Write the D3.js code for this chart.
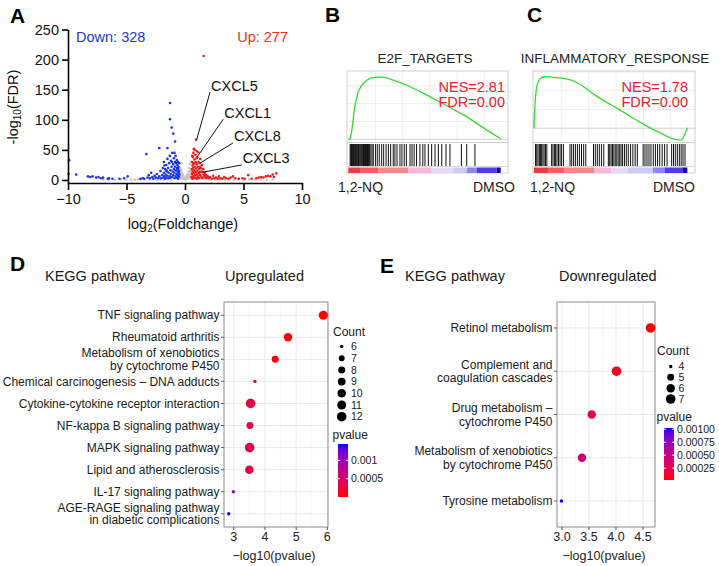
<!DOCTYPE html>
<html lang="en">
<head>
<meta charset="UTF-8">
<title>1,2-NQ transcriptome figure</title>
<style>
  body { margin: 0; background: #fff; }
  svg text { font-family: "Liberation Sans", Arial, sans-serif; }
</style>
<script src="https://d3js.org/d3.v7.min.js"></script>
</head>
<body>
<script>
// ---------- A: volcano points [log2FC, -log10 FDR]
const grayPts = [[-7,0.3],[-6.5,0.5],[-6,0.5],[-5.5,1],[-5,0.5],[-4.6,1],[-4.3,0.5],[-4,1.2],[-3.8,0.3],[-3.4,1],[-3,0.5],[-2.7,1.5],[-2.4,0.5],[-2.1,1],[-1.8,0.3],[-1.5,1.2],[-1.2,0.5],
  [-0.45,2],[-0.42,6],[-0.4,12],[-0.38,20],[-0.35,3],[-0.33,9],[-0.3,16],[-0.3,28],[-0.28,4],[-0.25,11],[-0.22,6],[-0.2,2],[-0.18,8],[-0.15,4],[-0.12,1.5],[-0.1,5],[-0.05,2],[0,1],
  [0.05,3],[0.1,1.5],[0.12,6],[0.15,2],[0.2,4],[0.22,9],[0.25,3],[0.28,7],[0.3,14],[0.33,5],[0.35,20],[0.38,10],[0.4,3],[0.42,26],[0.45,15],[0.48,7],[0.5,30],[0.52,12],
  [2.2,1],[2.6,0.5],[3,1],[3.4,0.5],[3.8,1.2],[4.2,0.5],[4.6,1],[5,0.5],[5.5,1],[6,0.5],[6.5,1],[7,0.5],[7.5,1]];
const downPts = [[-9.9,33],[-9.95,10],[-9.3,9],[-8.3,6],[-8.1,5],[-7.9,6],[-7.6,4],[-7.4,5],[-7.2,3],[-7,4],[-6.6,2],[-6.5,3],[-6.2,2],[-5.6,2],[-5.2,3],[-4.9,6],
  [-3.8,2],[-3.6,3],[-3.5,2],[-3.3,43],[-3.2,4],[-3.1,8],[-3,3],[-2.9,12],[-2.8,5],[-2.7,2],[-2.6,7],[-2.5,4],[-2.4,10],[-2.3,3],[-2.2,53],[-2.2,6],[-2.1,15],[-2.05,3],
  [-1.95,8],[-1.9,20],[-1.85,4],[-1.8,12],[-1.8,30],[-1.75,6],[-1.7,18],[-1.7,2],[-1.65,9],[-1.6,25],[-1.6,4],[-1.55,14],[-1.5,53],[-1.5,7],[-1.5,35],[-1.45,20],[-1.4,3],
  [-1.4,12],[-1.35,28],[-1.3,40],[-1.3,6],[-1.28,128],[-1.28,101],[-1.25,16],[-1.2,10],[-1.2,32],[-1.15,22],[-1.14,87],[-1.1,5],[-1.1,45],[-1.05,14],[-1,77],[-1,26],[-1,8],
  [-0.95,36],[-0.95,18],[-0.9,3],[-0.9,12],[-0.85,64],[-0.85,30],[-0.85,22],[-0.8,6],[-0.8,40],[-0.78,16],[-0.75,28],[-0.72,10],[-0.7,33],[-0.7,4],[-0.68,20],[-0.65,14],
  [-0.65,25],[-0.62,8],[-0.6,30],[-0.6,2],[-0.58,18],[-0.55,12],[-0.55,22],[-0.52,5],[-0.5,28],[-0.5,15],[-0.48,9],[-1.75,24],[-1.25,4],[-0.9,45],[-1.6,16],[-1.1,30]];
const upPts = [[0.55,5],[0.58,18],[0.6,30],[0.6,10],[0.62,2],[0.65,24],[0.65,14],[0.68,38],[0.7,6],[0.7,20],[0.72,45],[0.75,12],[0.75,28],[0.78,3],[0.8,34],[0.8,16],
  [0.82,50],[0.85,8],[0.85,22],[0.88,42],[0.9,13],[0.9,4],[0.92,30],[0.94,67],[0.95,19],[0.98,36],[1,9],[1,26],[1.02,2],[1.05,38],[1.05,15],[1.1,22],[1.1,6],[1.12,46],
  [1.15,30],[1.18,11],[1.2,18],[1.2,3],[1.25,28],[1.25,13],[1.3,8],[1.3,35],[1.35,20],[1.4,5],[1.4,14],[1.45,25],[1.5,13],[1.5,3],[1.55,18],[1.6,206],[1.6,9],[1.65,6],
  [1.7,12],[1.75,4],[1.8,8],[1.85,3],[0.62,40],[0.75,52],[1.0,48],[1.3,22],[0.7,26],[1.15,4],
  [1.95,6],[2.05,3],[2.15,5],[2.3,2],[2.4,7],[2.5,3],[2.65,4],[2.8,2],[2.9,6],[3.05,3],[3.2,2],[3.35,5],[3.5,3],[3.7,2],[3.9,4],[4.1,6],[4.3,3],[4.6,2],[4.9,3],[5.1,2],
  [5.4,8],[5.7,2],[6.1,3],[6.3,4],[6.5,5],[6.7,4],[6.9,6],[7.1,7],[7.3,6],[7.5,9],[7.6,5],[7.8,11]];
const geneLabels = ["CXCL5", "CXCL1", "CXCL8", "CXCL3"];
const genePts = [[1.0, 67], [1.03, 38], [1.28, 28], [1.54, 13]];
const geneTextPts = [[2.14, 146], [3.27, 101], [4.1, 61.5], [4.85, 25]];
const volcanoXTicks = [-10, -5, 0, 5, 10];
const volcanoYTicks = [0, 50, 100, 150, 200, 250];

// ---------- B/C: GSEA running scores (rank fraction, ES), hits, rank bar
const esRankB = [0, 0.011, 0.022, 0.033, 0.044, 0.065, 0.089, 0.122, 0.154, 0.209, 0.253, 0.383, 0.514, 0.645, 0.776, 0.907, 1.0];
const esScoreB = [0, 0, 0.087, 0.236, 0.385, 0.533, 0.608, 0.663, 0.689, 0.70, 0.689, 0.608, 0.497, 0.376, 0.254, 0.106, 0.006];
const esRankC = [0, 0.004, 0.009, 0.015, 0.020, 0.026, 0.033, 0.040, 0.048, 0.056, 0.064, 0.072, 0.080, 0.090, 0.100, 0.113, 0.130, 0.150, 0.178, 0.210,
  0.243, 0.275, 0.309, 0.350, 0.396, 0.450, 0.504, 0.560, 0.613, 0.668, 0.722, 0.776, 0.830, 0.865, 0.895, 0.920, 0.950, 0.962, 0.971, 0.985, 1.0];
const esScoreC = [0, 0.18, 0.32, 0.41, 0.46, 0.49, 0.51, 0.53, 0.535, 0.548, 0.542, 0.552, 0.55, 0.546, 0.549, 0.545, 0.543, 0.540, 0.534, 0.526,
  0.512, 0.49, 0.461, 0.41, 0.355, 0.30, 0.248, 0.195, 0.141, 0.088, 0.035, -0.012, -0.055, -0.085, -0.108, -0.118, -0.126, -0.124, -0.112, -0.06, 0.006];
const hitsB = [0.012, 0.017, 0.021, 0.026, 0.030, 0.034, 0.039, 0.044, 0.048, 0.053, 0.058, 0.063, 0.067, 0.072, 0.078, 0.083, 0.088, 0.094, 0.100, 0.106,
  0.113, 0.119, 0.126, 0.133, 0.140, 0.148, 0.156, 0.164, 0.178, 0.190, 0.203, 0.219, 0.232, 0.248, 0.263, 0.278, 0.295, 0.306, 0.320, 0.339, 0.352, 0.367,
  0.381, 0.405, 0.418, 0.432, 0.448, 0.470, 0.489, 0.503, 0.525, 0.547, 0.569, 0.591, 0.613, 0.641, 0.667, 0.742, 0.777, 0.831];
const hitsC = [0.010, 0.018, 0.026, 0.035, 0.043, 0.050, 0.058, 0.066, 0.075, 0.084, 0.115, 0.124, 0.133, 0.141, 0.150, 0.160, 0.170, 0.180, 0.192,
  0.235, 0.246, 0.258, 0.270, 0.283, 0.296, 0.310, 0.324, 0.338, 0.388, 0.400, 0.413, 0.426, 0.440, 0.455, 0.485, 0.494, 0.503, 0.512, 0.521, 0.530,
  0.540, 0.549, 0.559, 0.568, 0.578, 0.590, 0.602, 0.615, 0.630, 0.645, 0.660, 0.674, 0.712, 0.724, 0.737, 0.750, 0.763, 0.778, 0.792, 0.806, 0.820,
  0.836, 0.852, 0.868, 0.898, 0.910, 0.922, 0.935, 0.948, 0.960, 0.972, 0.985];
const rankBarColors = ["#e63c44", "#ef5f64", "#f28a8a", "#f5b7dc", "#e8daf5", "#cfcaf5", "#8f86ee", "#4f3de3", "#1c03ae"];
const rankBarBreaksB = [0, 0.077, 0.197, 0.394, 0.547, 0.689, 0.777, 0.843, 0.974, 1];
const rankBarBreaksC = [0, 0.091, 0.2, 0.396, 0.504, 0.613, 0.776, 0.852, 0.972, 1];

// ---------- D: KEGG upregulated
const upPathways = [["TNF signaling pathway"], ["Rheumatoid arthritis"], ["Metabolism of xenobiotics", "by cytochrome P450"],
  ["Chemical carcinogenesis \u2013 DNA adducts"], ["Cytokine-cytokine receptor interaction"], ["NF-kappa B signaling pathway"],
  ["MAPK signaling pathway"], ["Lipid and atherosclerosis"], ["IL-17 signaling pathway"], ["AGE-RAGE signaling pathway", "in diabetic complications"]];
const upLogP = [5.87, 4.74, 4.33, 3.68, 3.54, 3.52, 3.51, 3.50, 2.99, 2.84];
const upCount = [11, 10, 8, 6, 12, 8, 12, 10, 6, 6];
const upXTicks = [3, 4, 5, 6];
const upCountTicks = [6, 7, 8, 9, 10, 11, 12];
const upPTicks = [0.001, 0.0005];
const upPTickLabels = ["0.001", "0.0005"];

// ---------- E: KEGG downregulated
const downPathways = [["Retinol metabolism"], ["Complement and", "coagulation cascades"], ["Drug metabolism \u2013", "cytochrome P450"],
  ["Metabolism of xenobiotics", "by cytochrome P450"], ["Tyrosine metabolism"]];
const downLogP = [4.64, 4.01, 3.55, 3.37, 2.99];
const downCount = [7, 7, 6, 6, 4];
const downXTicks = [3.0, 3.5, 4.0, 4.5];
const downCountTicks = [4, 5, 6, 7];
const downPTicks = [0.001, 0.00075, 0.0005, 0.00025];
const downPTickLabels = ["0.00100", "0.00075", "0.00050", "0.00025"];

const svg = d3.select("body").append("svg").attr("width", 719).attr("height", 566);
svg.append("rect").attr("width", 719).attr("height", 566).attr("fill", "#fff");

function letter(t, x, y) {
  svg.append("text").attr("x", x).attr("y", y).attr("font-size", 21).attr("font-weight", "bold").text(t);
}
letter("A", 10, 23); letter("B", 325, 22); letter("C", 527, 22); letter("D", 10, 271); letter("E", 380, 273);

// ================= A: volcano
const ax = d3.scaleLinear().domain([-10, 10]).range([68, 302]);
const ay = d3.scaleLinear().domain([-5, 250]).range([183, 29.5]);
const gA = svg.append("g");

[[grayPts, "#c6c6c6"], [downPts, "#1f33e6"], [upPts, "#f01c1c"]].forEach(([pts, col]) => {
  gA.append("g").selectAll("circle").data(pts).join("circle")
    .attr("cx", d => ax(d[0])).attr("cy", d => ay(d[1])).attr("r", 1.3).attr("fill", col);
});

geneLabels.forEach((name, i) => {
  const [tx, ty] = geneTextPts[i], [px, py] = genePts[i];
  gA.append("line").attr("x1", ax(tx)).attr("y1", ay(ty)).attr("x2", ax(px)).attr("y2", ay(py))
    .attr("stroke", "#111").attr("stroke-width", 1);
  gA.append("text").attr("x", ax(tx) + 1).attr("y", ay(ty) - 1.5).attr("font-size", 14.5).attr("fill", "#111").text(name);
});

const yAxA = gA.append("g").attr("transform", "translate(68,0)")
  .call(d3.axisLeft(ay).tickValues(volcanoYTicks).tickSize(6).tickSizeOuter(0).tickPadding(3));
const xAxA = gA.append("g").attr("transform", "translate(0,183)")
  .call(d3.axisBottom(ax).tickValues(volcanoXTicks).tickSize(7).tickSizeOuter(0).tickPadding(4));
[yAxA, xAxA].forEach(a => {
  a.select(".domain").attr("stroke", "#000").attr("stroke-width", 1.6);
  a.selectAll(".tick line").attr("stroke", "#000").attr("stroke-width", 1.6);
  a.selectAll(".tick text").attr("font-size", 14.5).attr("fill", "#111")
    .attr("font-family", "'Liberation Sans', Arial, sans-serif");
});

const yTitle = gA.append("text").attr("transform", "translate(18,107) rotate(-90)")
  .attr("text-anchor", "middle").attr("font-size", 14.5).attr("fill", "#111");
yTitle.append("tspan").text("-log");
yTitle.append("tspan").attr("font-size", 10).attr("dy", 3).text("10");
yTitle.append("tspan").attr("dy", -3).text("(FDR)");
const xTitle = gA.append("text").attr("x", 183).attr("y", 229)
  .attr("text-anchor", "middle").attr("font-size", 14.5).attr("fill", "#111");
xTitle.append("tspan").text("log");
xTitle.append("tspan").attr("font-size", 10).attr("dy", 3).text("2");
xTitle.append("tspan").attr("dy", -3).text("(Foldchange)");

gA.append("text").attr("x", 76).attr("y", 42).attr("font-size", 14.5).attr("fill", "#2438e0").text("Down: 328");
gA.append("text").attr("x", 288).attr("y", 42).attr("text-anchor", "end").attr("font-size", 14.5).attr("fill", "#e5311f").text("Up: 277");

// ================= B, C: GSEA
function drawGsea(o) {
  const g = svg.append("g");
  const x = d3.scaleLinear().domain([0, 1]).range([o.x0, o.x1]);
  const y = d3.scaleLinear().domain(o.esDomain).range([142, 71]);
  // faint grid in score area
  [0.178, 0.357, 0.535, 0.714, 0.892].forEach(f => {
    g.append("line").attr("x1", x(f)).attr("x2", x(f)).attr("y1", 71).attr("y2", 142).attr("stroke", "#eeeeee");
  });
  [0.2, 0.4, 0.6].forEach(v => {
    if (v < o.esDomain[1]) g.append("line").attr("x1", o.fx0).attr("x2", o.fx1).attr("y1", y(v)).attr("y2", y(v)).attr("stroke", "#eeeeee");
  });
  g.append("line").attr("x1", o.fx0).attr("x2", o.fx1).attr("y1", y(0)).attr("y2", y(0)).attr("stroke", "#cfcfcf");
  g.append("line").attr("x1", o.fx0).attr("x2", o.fx1).attr("y1", 142.5).attr("y2", 142.5).attr("stroke", "#cfcfcf");
  g.append("line").attr("x1", o.fx0).attr("x2", o.fx1).attr("y1", 166.5).attr("y2", 166.5).attr("stroke", "#d6d6d6");
  g.append("rect").attr("x", o.fx0).attr("y", 71).attr("width", o.fx1 - o.fx0).attr("height", 102)
    .attr("fill", "none").attr("stroke", "#cfcfcf");

  g.selectAll(".hit").data(o.hits).join("line")
    .attr("x1", d => x(d)).attr("x2", d => x(d)).attr("y1", 144).attr("y2", 166)
    .attr("stroke", "#111").attr("stroke-width", 1);

  o.colors.forEach((c, i) => {
    g.append("rect").attr("x", x(o.breaks[i])).attr("y", 167.5)
      .attr("width", x(o.breaks[i + 1]) - x(o.breaks[i])).attr("height", 5.5).attr("fill", c);
  });

  g.append("path").datum(d3.zip(o.rank, o.es))
    .attr("d", d3.line().x(d => x(d[0])).y(d => y(d[1])))
    .attr("fill", "none").attr("stroke", "#36d836").attr("stroke-width", 1.3);

  g.append("text").attr("x", o.titleX).attr("y", 63).attr("text-anchor", "middle")
    .attr("font-size", 13.5).attr("fill", "#222").text(o.title);
  g.append("text").attr("x", o.nesX).attr("y", 91.5).attr("text-anchor", "end")
    .attr("font-size", 14.5).attr("fill", "#e8202a").text(o.nes);
  g.append("text").attr("x", o.nesX).attr("y", 106.5).attr("text-anchor", "end")
    .attr("font-size", 14.5).attr("fill", "#e8202a").text(o.fdr);
  g.append("text").attr("x", o.leftX).attr("y", 191.5).attr("font-size", 14).attr("fill", "#222").text("1,2-NQ");
  g.append("text").attr("x", o.rightX).attr("y", 191.5).attr("text-anchor", "end").attr("font-size", 14).attr("fill", "#222").text("DMSO");
}

drawGsea({ x0: 348.3, x1: 500.7, fx0: 347, fx1: 508, esDomain: [-0.03, 0.765], rank: esRankB, es: esScoreB, hits: hitsB,
  colors: rankBarColors, breaks: rankBarBreaksB, title: "E2F_TARGETS", titleX: 425, nes: "NES=2.81", fdr: "FDR=0.00", nesX: 505,
  leftX: 338, rightX: 515 });
drawGsea({ x0: 534, x1: 687.3, fx0: 533, fx1: 695, esDomain: [-0.147, 0.61], rank: esRankC, es: esScoreC, hits: hitsC,
  colors: rankBarColors, breaks: rankBarBreaksC, title: "INFLAMMATORY_RESPONSE", titleX: 615, nes: "NES=1.78", fdr: "FDR=0.00", nesX: 688,
  leftX: 530, rightX: 695 });

// ================= D, E: KEGG dot plots
let gradId = 0;
function drawDot(o) {
  const g = svg.append("g");
  const top = 302, bottom = 527;
  const y = d3.scalePoint().domain(d3.range(o.labels.length)).range([top, bottom]).padding(0.6);
  const ext = d3.extent(o.logp), pad = (ext[1] - ext[0]) * 0.05;
  const x = d3.scaleLinear().domain([ext[0] - pad, ext[1] + pad]).range([o.px0, o.px1]);
  const pv = o.logp.map(v => Math.pow(10, -v));
  const pExt = d3.extent(pv);
  const color = d3.scaleLinear().domain(pExt).range(["red", "blue"]).interpolate(d3.interpolateLab);
  const cExt = d3.extent(o.count);
  const rad = c => 1.7 + 3.1 * Math.sqrt((c - cExt[0]) / (cExt[1] - cExt[0]));

  // grid
  const minor = o.xTicks.slice(0, -1).map((t, i) => (t + o.xTicks[i + 1]) / 2);
  minor.push(o.xTicks[0] - (o.xTicks[1] - o.xTicks[0]) / 2);
  minor.push(o.xTicks[o.xTicks.length - 1] + (o.xTicks[1] - o.xTicks[0]) / 2);
  minor.filter(v => x(v) > o.px0 && x(v) < o.px1).forEach(v => {
    g.append("line").attr("x1", x(v)).attr("x2", x(v)).attr("y1", top).attr("y2", bottom).attr("stroke", "#f3f3f3").attr("stroke-width", 0.6);
  });
  o.xTicks.forEach(v => {
    g.append("line").attr("x1", x(v)).attr("x2", x(v)).attr("y1", top).attr("y2", bottom).attr("stroke", "#e6e6e6").attr("stroke-width", 0.9);
  });
  o.labels.forEach((l, i) => {
    g.append("line").attr("x1", o.px0).attr("x2", o.px1).attr("y1", y(i)).attr("y2", y(i)).attr("stroke", "#e6e6e6").attr("stroke-width", 0.9);
    g.append("line").attr("x1", o.px0 - 3).attr("x2", o.px0).attr("y1", y(i)).attr("y2", y(i)).attr("stroke", "#555");
    const t = g.append("text").attr("x", o.px0 - 4.5).attr("text-anchor", "end").attr("font-size", 12).attr("fill", "#1a1a1a");
    const n = l.length, lh = o.lineH;
    l.forEach((s, k) => {
      t.append("tspan").attr("x", o.px0 - 4.5).attr("y", y(i) + 4.2 + (k - (n - 1) / 2) * lh).text(s);
    });
  });
  g.append("rect").attr("x", o.px0).attr("y", top).attr("width", o.px1 - o.px0).attr("height", bottom - top)
    .attr("fill", "none").attr("stroke", "#8a8a8a").attr("stroke-width", 1);

  o.xTicks.forEach(v => {
    g.append("line").attr("x1", x(v)).attr("x2", x(v)).attr("y1", bottom).attr("y2", bottom + 3).attr("stroke", "#555");
    g.append("text").attr("x", x(v)).attr("y", 541).attr("text-anchor", "middle").attr("font-size", 12.5)
      .attr("fill", "#222").text(o.xFmt(v));
  });
  g.append("text").attr("x", (o.px0 + o.px1) / 2 - 2).attr("y", 560).attr("text-anchor", "middle")
    .attr("font-size", 12.5).attr("fill", "#222").text("\u2212log10(pvalue)");

  g.selectAll(".dot").data(o.logp).join("circle")
    .attr("cx", d => x(d)).attr("cy", (d, i) => y(i)).attr("r", (d, i) => rad(o.count[i]))
    .attr("fill", (d, i) => color(pv[i]));

  g.append("text").attr("x", o.keggX).attr("y", 281).attr("font-size", 14.5).attr("fill", "#1a1a1a").text("KEGG pathway");
  g.append("text").attr("x", o.headX).attr("y", 281).attr("font-size", 14.5).attr("fill", "#1a1a1a").text(o.head);

  // size legend
  const L = o.legend;
  g.append("text").attr("x", L.titleX).attr("y", L.countY).attr("font-size", 12).attr("fill", "#1a1a1a").text("Count");
  const ly = d3.scalePoint().domain(o.countTicks).range(L.keyRange);
  o.countTicks.forEach(c => {
    g.append("circle").attr("cx", L.dotX).attr("cy", ly(c)).attr("r", rad(c)).attr("fill", "#000");
    g.append("text").attr("x", L.labX).attr("y", ly(c) + 3.6).attr("font-size", 10.5).attr("fill", "#1a1a1a").text(c);
  });
  // colour legend
  g.append("text").attr("x", L.titleX - 0.5).attr("y", L.pY).attr("font-size", 12).attr("fill", "#1a1a1a").text("pvalue");
  const id = "pgrad" + (gradId++);
  const grad = svg.append("defs").append("linearGradient").attr("id", id)
    .attr("x1", 0).attr("y1", 1).attr("x2", 0).attr("y2", 0);
  d3.range(11).forEach(k => {
    grad.append("stop").attr("offset", k / 10).attr("stop-color", color(pExt[0] + (pExt[1] - pExt[0]) * k / 10));
  });
  g.append("rect").attr("x", L.barX).attr("y", L.barY).attr("width", 10).attr("height", L.barH).attr("fill", `url(#${id})`);
  const py = d3.scaleLinear().domain(pExt).range([L.barY + L.barH, L.barY]);
  o.pTicks.forEach((p, k) => {
    g.append("line").attr("x1", L.barX).attr("x2", L.barX + 2).attr("y1", py(p)).attr("y2", py(p)).attr("stroke", "#fff");
    g.append("line").attr("x1", L.barX + 8).attr("x2", L.barX + 10).attr("y1", py(p)).attr("y2", py(p)).attr("stroke", "#fff");
    g.append("text").attr("x", L.barX + 13).attr("y", py(p) + 3.8).attr("font-size", 10.5).attr("fill", "#1a1a1a").text(o.pTickLabels[k]);
  });
}

drawDot({ labels: upPathways, logp: upLogP, count: upCount, xTicks: upXTicks, xFmt: d3.format("d"), px0: 224, px1: 328,
  lineH: 12.6, countTicks: upCountTicks, pTicks: upPTicks, pTickLabels: upPTickLabels, keggX: 45, headX: 225, head: "Upregulated",
  legend: { titleX: 333, countY: 335.5, keyRange: [346.5, 416.7], dotX: 341.7, labX: 351, pY: 439, barX: 338, barY: 444, barH: 53 } });
drawDot({ labels: downPathways, logp: downLogP, count: downCount, xTicks: downXTicks, xFmt: d3.format(".1f"), px0: 557, px1: 655,
  lineH: 13.6, countTicks: downCountTicks, pTicks: downPTicks, pTickLabels: downPTickLabels, keggX: 405, headX: 559, head: "Downregulated",
  legend: { titleX: 657, countY: 355, keyRange: [366.5, 399], dotX: 670.7, labX: 678.5, pY: 421, barX: 664, barY: 428, barH: 52 } });
</script>
</body>
</html>
